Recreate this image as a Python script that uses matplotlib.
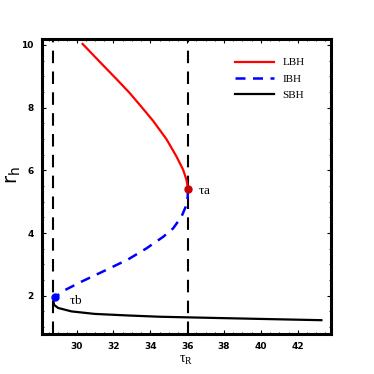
import numpy as np
import matplotlib
matplotlib.use("Agg")
import matplotlib.pyplot as plt
from matplotlib.ticker import MultipleLocator

# values
lbh_tau = [30.33, 31.44, 32.2, 32.89, 33.44, 34.15, 34.88, 35.42, 35.78, 35.96, 36.05]
lbh_r = [10.03, 9.35, 8.89, 8.46, 8.08, 7.58, 6.99, 6.44, 6.02, 5.70, 5.40]

ibh_tau = [36.05, 36.02, 35.92, 35.69, 35.24, 34.70, 33.79, 32.80, 31.53, 30.27, 29.37, 28.82]
ibh_r = [5.40, 5.11, 4.84, 4.52, 4.15, 3.88, 3.51, 3.16, 2.80, 2.45, 2.18, 1.95]

sbh_tau = [28.82, 28.75, 28.78, 29.0, 29.73, 30.99, 32.8, 34.5, 36.05, 40.0, 43.28]
sbh_r = [1.95, 1.82, 1.71, 1.61, 1.50, 1.42, 1.37, 1.33, 1.31, 1.26, 1.22]

tau_a, r_a = 36.05, 5.40
tau_b, r_b = 28.82, 1.95

serif = "Liberation Serif"

fig = plt.figure(figsize=(3.74, 3.74), dpi=100)
ax = fig.add_axes([0.112, 0.107, 0.773, 0.788])

ax.axvline(28.73, color="black", lw=1.5, ls=(0, (6, 4)))
ax.axvline(tau_a, color="black", lw=1.5, ls=(0, (6, 4)))

ax.plot(lbh_tau, lbh_r, color="red", lw=1.6, label="LBH")
ax.plot(ibh_tau, ibh_r, color="blue", lw=1.8, ls=(0, (4, 3)), label="IBH")
ax.plot(sbh_tau, sbh_r, color="black", lw=1.6, label="SBH")

ax.plot(tau_a, r_a, "o", color="#cc0000", ms=5)
ax.plot(tau_b, r_b, "o", color="blue", ms=5)
ax.text(tau_a + 0.55, r_a - 0.05, r"$\mathregular{\tau}$a", fontsize=9.5, family=serif, va="center")
ax.text(tau_b + 0.75, r_b - 0.1, r"$\mathregular{\tau}$b", fontsize=9.5, family=serif, va="center")

ax.set_xlim(28.12, 43.8)
ax.set_ylim(0.78, 10.18)
ax.xaxis.set_major_locator(MultipleLocator(2))
ax.xaxis.set_minor_locator(MultipleLocator(0.5))
ax.yaxis.set_major_locator(MultipleLocator(2))
ax.yaxis.set_minor_locator(MultipleLocator(0.5))
ax.tick_params(which="both", direction="in", top=True, right=True, labelsize=6.5, pad=6)
ax.tick_params(which="major", length=3, width=0.8)
ax.tick_params(which="minor", length=1.5, width=0.6)
for lab in ax.get_xticklabels() + ax.get_yticklabels():
    lab.set_fontweight("bold")
for s in ax.spines.values():
    s.set_linewidth(2.2)

ax.set_ylabel(r"r$_\mathregular{h}$", fontsize=14)
ax.yaxis.set_label_coords(-0.065, 0.54)
ax.set_xlabel(r"$\mathregular{\tau}_\mathregular{R}$", fontsize=10, family=serif, labelpad=2)

leg = ax.legend(loc="upper right", bbox_to_anchor=(0.955, 0.983), frameon=False,
                prop={"family": serif, "size": 8},
                handlelength=3.5, borderaxespad=0.8, labelspacing=0.6)

fig.savefig("out.png", dpi=100)
